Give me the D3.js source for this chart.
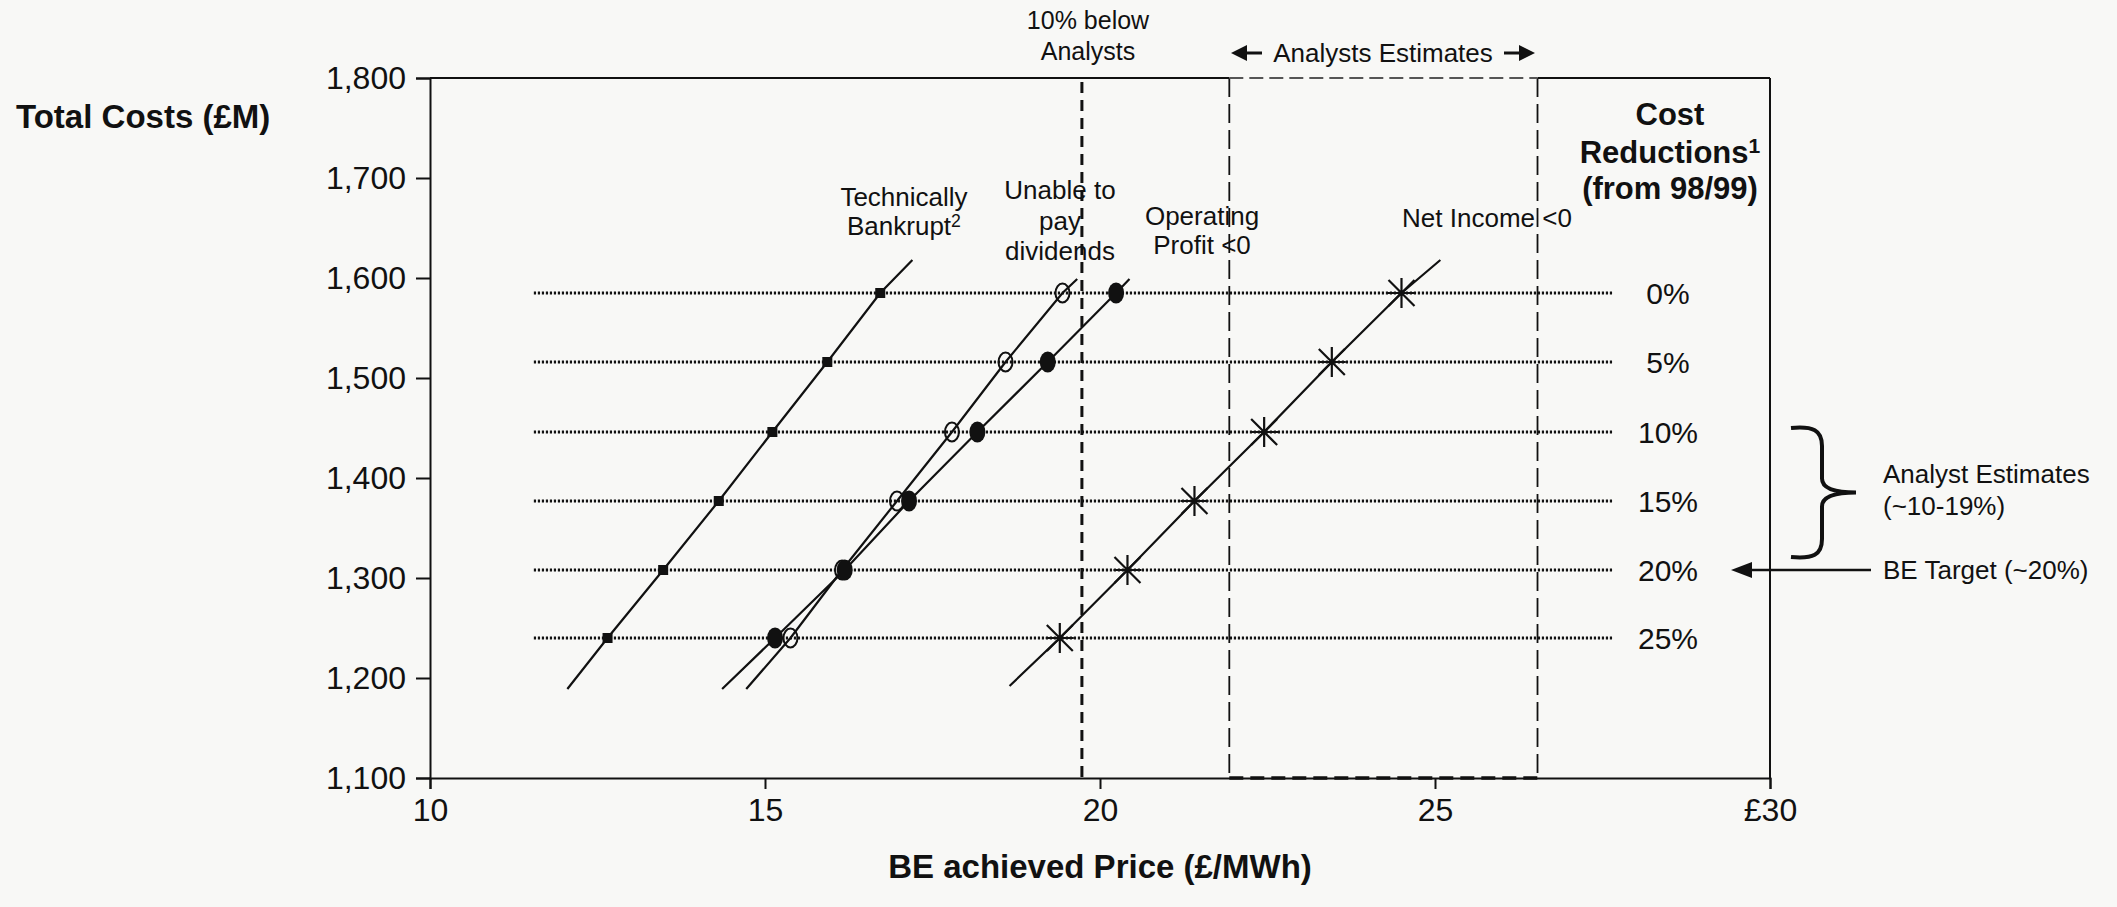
<!DOCTYPE html>
<html><head><meta charset="utf-8">
<script src="https://cdn.jsdelivr.net/npm/d3@7"></script>
<style>
html,body{margin:0;padding:0;background:#f8f8f6;}
svg{display:block;}
text{font-family:"Liberation Sans",Arial,Helvetica,sans-serif;fill:#111;}
</style></head><body>
<svg id="chart" width="2117" height="907"></svg>
<script>
// ---- data ----
const reductionLabels = ["0%","5%","10%","15%","20%","25%"];
const totalCosts      = [1585, 1516, 1446, 1377, 1308, 1240];
const bankruptPrice   = [16.72, 15.93, 15.11, 14.31, 13.48, 12.65];
const noDividendPrice = [19.44, 18.59, 17.79, 16.97, 16.15, 15.38];
const opLossPrice     = [20.24, 19.22, 18.17, 17.15, 16.19, 15.15];
const netLossPrice    = [24.50, 23.46, 22.45, 21.41, 20.41, 19.40];
// trend line end points [price, cost]
const bankruptEnds   = [[12.05, 1189], [17.2, 1618]];
const noDividendEnds = [[14.72, 1189], [19.66, 1599]];
const opLossEnds     = [[14.36, 1189], [20.44, 1599]];
const netLossEnds    = [[18.65, 1192], [25.08, 1618]];
const xTicks = [10, 15, 20, 25, 30];
const xTickLabels = ["10", "15", "20", "25", "£30"];
const yTicks = [1100, 1200, 1300, 1400, 1500, 1600, 1700, 1800];
const tenBelowAnalysts = 19.73;
const analystRange = [21.93, 26.53];
const levelLineRange = [11.55, 27.65];
const analystEstimateCosts = [1450, 1321];
const beTargetCost = 1308;

// ---- scales ----
const svg = d3.select("#chart");
const x = d3.scaleLinear().domain([10, 30]).range([430, 1770]);
const y = d3.scaleLinear().domain([1100, 1800]).range([778, 78]);
const ink = "#111";

// dotted cost-level lines
svg.append("g").selectAll("line").data(totalCosts).join("line")
  .attr("x1", x(levelLineRange[0])).attr("x2", x(levelLineRange[1]))
  .attr("y1", d => y(d)).attr("y2", d => y(d))
  .attr("stroke", ink).attr("stroke-width", 3).attr("stroke-dasharray", "2.2,1.8");

// vertical dashed reference lines
svg.append("line").attr("x1", x(tenBelowAnalysts)).attr("x2", x(tenBelowAnalysts))
  .attr("y1", y(1800) + 4).attr("y2", y(1100))
  .attr("stroke", ink).attr("stroke-width", 3).attr("stroke-dasharray", "11,7");
analystRange.forEach(v => {
  svg.append("line").attr("x1", x(v)).attr("x2", x(v))
    .attr("y1", y(1800)).attr("y2", y(1100))
    .attr("stroke", ink).attr("stroke-width", 1.8).attr("stroke-dasharray", "19,7");
});

// frame
const frame = svg.append("g").attr("stroke", ink).attr("stroke-width", 2).attr("fill", "none");
frame.append("line").attr("x1", x(10)).attr("x2", x(analystRange[0])).attr("y1", y(1800)).attr("y2", y(1800));
frame.append("line").attr("x1", x(analystRange[1])).attr("x2", x(30)).attr("y1", y(1800)).attr("y2", y(1800));
frame.append("line").attr("x1", x(analystRange[0])).attr("x2", x(analystRange[1])).attr("y1", y(1800)).attr("y2", y(1800))
  .attr("stroke", "#555").attr("stroke-dasharray", "14,6");
frame.append("line").attr("x1", x(30)).attr("x2", x(30)).attr("y1", y(1800)).attr("y2", y(1100));
frame.append("line").attr("x1", x(analystRange[0])).attr("x2", x(analystRange[1])).attr("y1", y(1100)).attr("y2", y(1100))
  .attr("stroke-width", 3.5).attr("stroke-dasharray", "14,7");

// axes
const xAxis = d3.axisBottom(x).tickValues(xTicks).tickSize(11).tickPadding(9)
  .tickFormat((d, i) => xTickLabels[i]);
const gx = svg.append("g").attr("transform", `translate(0,${y(1100)})`).call(xAxis);
gx.select(".domain").attr("stroke", ink).attr("stroke-width", 2);
gx.selectAll(".tick line").attr("stroke", ink).attr("stroke-width", 2);
gx.selectAll(".tick text").attr("font-size", 32).attr("fill", ink)
  .style("font-family", '"Liberation Sans",Arial,sans-serif');

const yAxis = d3.axisLeft(y).tickValues(yTicks).tickSize(14).tickPadding(10).tickFormat(d3.format(","));
const gy = svg.append("g").attr("transform", `translate(${x(10)},0)`).call(yAxis);
gy.select(".domain").attr("stroke", ink).attr("stroke-width", 2);
gy.selectAll(".tick line").attr("stroke", ink).attr("stroke-width", 2);
gy.selectAll(".tick text").attr("font-size", 32).attr("fill", ink)
  .style("font-family", '"Liberation Sans",Arial,sans-serif');

// series lines
const line = d3.line().x(d => x(d[0])).y(d => y(d[1]));
function seriesPts(prices, ends) {
  const pts = prices.map((p, i) => [p, totalCosts[i]]).reverse();
  return [ends[0], ...pts, ends[1]];
}
[[bankruptPrice, bankruptEnds], [noDividendPrice, noDividendEnds],
 [opLossPrice, opLossEnds], [netLossPrice, netLossEnds]].forEach(([p, e]) => {
  svg.append("path").datum(seriesPts(p, e)).attr("d", line)
    .attr("fill", "none").attr("stroke", ink).attr("stroke-width", 2.2);
});

// markers
svg.append("g").selectAll("rect").data(bankruptPrice).join("rect")
  .attr("x", d => x(d) - 5).attr("y", (d, i) => y(totalCosts[i]) - 5)
  .attr("width", 10).attr("height", 10).attr("fill", ink);
svg.append("g").selectAll("ellipse").data(noDividendPrice).join("ellipse")
  .attr("cx", d => x(d)).attr("cy", (d, i) => y(totalCosts[i]))
  .attr("rx", 7).attr("ry", 9.5).attr("fill", "none").attr("stroke", ink).attr("stroke-width", 2);
svg.append("g").selectAll("ellipse").data(opLossPrice).join("ellipse")
  .attr("cx", d => x(d)).attr("cy", (d, i) => y(totalCosts[i]))
  .attr("rx", 8).attr("ry", 10.5).attr("fill", ink);
svg.append("g").selectAll("path").data(netLossPrice).join("path")
  .attr("transform", (d, i) => `translate(${x(d)},${y(totalCosts[i])})`)
  .attr("d", "M0,-15V15M-14,0H14M-13,-13L13,13M-13,13L13,-13")
  .attr("stroke", ink).attr("stroke-width", 2.2).attr("fill", "none");

// percent labels
svg.append("g").selectAll("text").data(reductionLabels).join("text")
  .attr("x", 1668).attr("y", (d, i) => y(totalCosts[i])).attr("dy", "0.36em")
  .attr("text-anchor", "middle").attr("font-size", 30).text(d => d);

// text helpers
function label(lines, cx, baselines, size, opts = {}) {
  lines.forEach((t, i) => {
    const el = svg.append("text").attr("x", cx).attr("y", baselines[i])
      .attr("font-size", size).attr("text-anchor", opts.anchor || "middle")
      .attr("font-weight", opts.bold ? "bold" : "normal");
    if (Array.isArray(t)) {
      el.append("tspan").text(t[0]);
      el.append("tspan").attr("font-size", size * 0.68).attr("dy", -size * 0.32).text(t[1]);
    } else el.text(t);
  });
}
label(["Total Costs (£M)"], 16, [128], 33, {bold: true, anchor: "start"});
label(["BE achieved Price (£/MWh)"], 1100, [878], 33, {bold: true});
label(["10% below", "Analysts"], 1088, [29, 60], 25);
label(["Analysts Estimates"], 1383, [62], 26);
label(["Technically", ["Bankrupt", "2"]], 904, [206, 235], 26);
label(["Unable to", "pay", "dividends"], 1060, [199, 230, 260], 26);
label(["Operating", "Profit <0"], 1202, [225, 254], 26);
label(["Net Income <0"], 1487, [227], 26);
label(["Cost", ["Reductions", "1"], "(from 98/99)"], 1670, [125, 163, 199], 31, {bold: true});
label(["Analyst Estimates", "(~10-19%)"], 1883, [483, 515], 26, {anchor: "start"});
label(["BE Target (~20%)"], 1883, [y(beTargetCost) + 9], 26, {anchor: "start"});

// arrows around "Analysts Estimates"
function smallArrow(tipX, dir, cy) {
  svg.append("path")
    .attr("d", `M${tipX},${cy}L${tipX + dir * 16},${cy - 8}L${tipX + dir * 16},${cy + 8}Z`)
    .attr("fill", ink);
  svg.append("line").attr("x1", tipX + dir * 14).attr("x2", tipX + dir * 31)
    .attr("y1", cy).attr("y2", cy).attr("stroke", ink).attr("stroke-width", 3);
}
smallArrow(1231, 1, 53);
smallArrow(1535, -1, 53);

// curly brace for analyst estimates
const bTop = y(analystEstimateCosts[0]), bBot = y(analystEstimateCosts[1]);
const bMid = (bTop + bBot) / 2, x0 = x(30) + 21, xm = x(30) + 52, xt = x(30) + 86;
svg.append("path")
  .attr("d", `M${x0},${bTop}C${x0 + 22},${bTop - 2} ${xm},${bTop + 2} ${xm},${bTop + 18}
    L${xm},${bMid - 14}C${xm},${bMid - 4} ${xm + 12},${bMid} ${xt},${bMid}
    C${xm + 12},${bMid} ${xm},${bMid + 4} ${xm},${bMid + 14}
    L${xm},${bBot - 18}C${xm},${bBot - 2} ${x0 + 22},${bBot + 2} ${x0},${bBot}`)
  .attr("fill", "none").attr("stroke", ink).attr("stroke-width", 4);

// BE target arrow
const ty = y(beTargetCost);
svg.append("line").attr("x1", 1871).attr("x2", 1748).attr("y1", ty).attr("y2", ty)
  .attr("stroke", ink).attr("stroke-width", 2.5);
svg.append("path").attr("d", `M1731,${ty}L1752,${ty - 8}L1752,${ty + 8}Z`).attr("fill", ink);
</script>
</body></html>
